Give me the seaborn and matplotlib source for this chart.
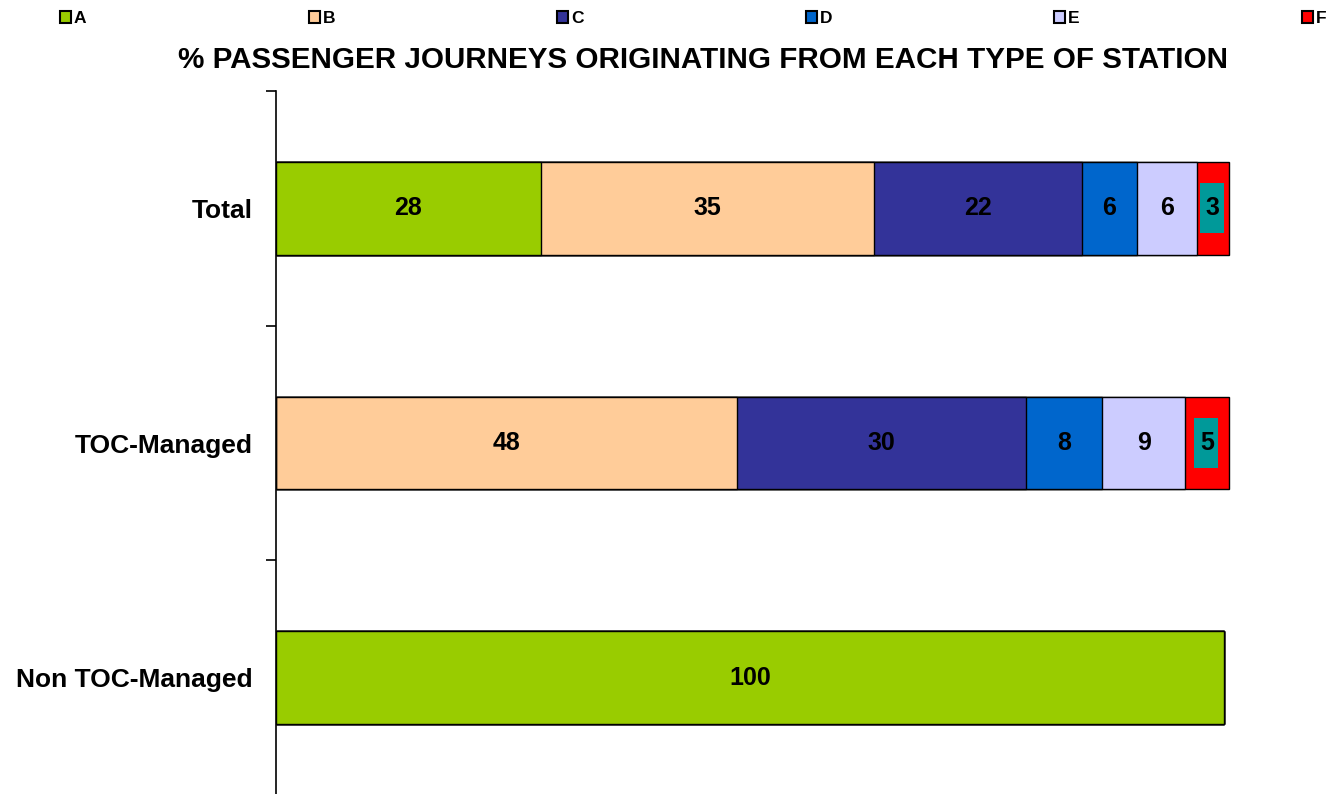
import matplotlib
matplotlib.use("Agg")
import matplotlib.pyplot as plt
import seaborn as sns
import pandas as pd
import numpy as np
from matplotlib.patches import Patch, Rectangle

# ---- data ----
categories = ["Total", "TOC-Managed", "Non TOC-Managed"]
series = ["A", "B", "C", "D", "E", "F"]
val_A = [27.8, 0.0, 99.5]
val_B = [35.0, 48.4, 0.0]
val_C = [21.8, 30.3, 0.0]
val_D = [5.7, 8.0, 0.0]
val_E = [6.3, 8.7, 0.0]
val_F = [3.4, 4.6, 0.0]
title = "% PASSENGER JOURNEYS ORIGINATING FROM EACH TYPE OF STATION"

colors = ["#99CC00", "#FFCC99", "#333399", "#0066CC", "#CCCCFF", "#FF0000"]
label_bg_F = "#009999"

sns.set_theme(style="white")
plt.rcParams["font.family"] = ["Liberation Sans", "DejaVu Sans"]
plt.rcParams["font.weight"] = "bold"
plt.rcParams["text.color"] = "black"
plt.rcParams["ytick.color"] = "black"
plt.rcParams["ytick.labelcolor"] = "black"

values = np.array([val_A, val_B, val_C, val_D, val_E, val_F])
cums = np.cumsum(values, axis=0)

df = pd.DataFrame({"category": categories})
for i, s in enumerate(series):
    df[s] = values[i]
    df[s + "_cum"] = cums[i]

W, H = 1339, 794
fig = plt.figure(figsize=(W / 100, H / 100), dpi=100)
x0 = 276
px_per_unit = 953 / 100.0
xmax = 101.0
y_top = 91
y_bot = 795
ax = fig.add_axes([x0 / W, (H - y_bot) / H, xmax * px_per_unit / W, (y_bot - y_top) / H])

# stacked bars: draw cumulative totals from last series to first
for i in range(len(series) - 1, -1, -1):
    sns.barplot(data=df, x=series[i] + "_cum", y="category", orient="h",
                color=colors[i], saturation=1, width=0.396,
                edgecolor="black", linewidth=1.0, ax=ax, order=categories)

ax.set_xlim(0, xmax)
ax.set_ylim(2.5, -0.5)
ax.set_xlabel("")
ax.set_ylabel("")
ax.set_xticks([])

# teal label box size in data units (24 px x 50 px)
box_w = 24 / px_per_unit
box_h = 50 / (y_bot - y_top) * 3.0

# segment labels
for j, cat in enumerate(categories):
    left = 0.0
    for i, s in enumerate(series):
        v = values[i][j]
        if v > 0:
            xc = left + v / 2
            txt = str(int(v + 0.5))
            if s == "F":
                ax.add_patch(Rectangle((xc - box_w / 2 - 0.1, j - box_h / 2), box_w, box_h,
                                       facecolor=label_bg_F, edgecolor="none", zorder=5))
            ax.text(xc, j, txt, ha="center", va="center", fontsize=18,
                    fontweight="bold", color="black", zorder=6)
        left += v

# y axis: boundary ticks, category labels
ax.set_yticks([-0.5, 0.5, 1.5, 2.5])
ax.set_yticklabels([])
ax.set_yticks([0, 1, 2], minor=True)
ax.set_yticklabels(categories, minor=True, fontsize=19, fontweight="bold", color="black")
ax.tick_params(axis="y", which="major", left=True, length=7.5, width=1.2, color="black", direction="out")
ax.tick_params(axis="y", which="minor", left=False, length=0, pad=16.5)

for sp in ["top", "right", "bottom"]:
    ax.spines[sp].set_visible(False)
ax.spines["left"].set_color("black")
ax.spines["left"].set_linewidth(1.2)

fig.text((181 + 1226) / 2 / W, 1 - 60 / H, title, ha="center", va="center",
         fontsize=21.3, fontweight="bold", color="black")

handles = [Patch(facecolor=c, edgecolor="black", linewidth=1.5, label=s)
           for s, c in zip(series, colors)]
leg_fs = 12.5
em = leg_fs * 100 / 72
fig.legend(handles=handles, loc="center left", ncol=6,
           bbox_to_anchor=(60 / W, 1 - 18.5 / H), frameon=False,
           handlelength=11 / em, handleheight=11 / em, handletextpad=3 / em,
           columnspacing=(249 - 11 - 3 - 13) / em,
           prop={"weight": "bold", "size": leg_fs}, borderaxespad=0, borderpad=0)

fig.savefig("out.png", dpi=100, facecolor="white")
